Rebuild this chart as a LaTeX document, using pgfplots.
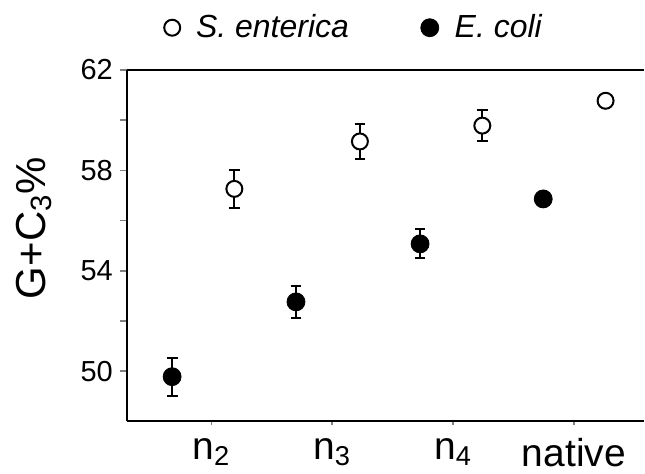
\documentclass[border=0pt]{standalone}
\usepackage{pgfplots}
\pgfplotsset{compat=1.18}
\usepackage{fontspec}
\setmainfont{Liberation Sans}

% data (x = category position incl. offset)
\pgfplotstableread{
x      y      e
0.675  49.78  0.76
1.700  52.76  0.65
2.727  55.07  0.58
3.746  56.86  0.00
}\ecoli
\pgfplotstableread{
x      y      e
1.190  57.26  0.76
2.229  59.15  0.71
3.242  59.78  0.62
4.262  60.77  0.00
}\senterica

\pgfplotsset{ebars/.style={only marks, mark=none, forget plot,
    error bars/.cd, y dir=both, y explicit, error mark=|,
    error bar style={line width=1pt, black},
    error mark options={mark size=2.7pt, line width=1pt}}}

\begin{document}
\begin{tikzpicture}
\begin{axis}[name=ax, scale only axis, width=259pt, height=176pt,
    xmin=0.3, xmax=4.58, ymin=48, ymax=62,
    axis x line*=box, axis y line*=left,
    axis line style={line width=1pt},
    xtick={1,2,3,4},
    xticklabels={n\textsubscript{2}, n\textsubscript{3}, n\textsubscript{4}, native},
    ytick={50,54,58,62}, minor ytick={52,56,60},
    xtick pos=bottom, ytick pos=left, tick align=outside,
    major tick length=3.5pt, minor tick length=3.5pt,
    xtick style={/pgfplots/major tick length=2pt, line width=0.8pt},
    ytick style={line width=0.8pt}, minor tick style={line width=0.8pt},
    /pgf/number format/assume math mode=true,
    yticklabel style={font=\fontsize{14.5}{16}\selectfont},
    xticklabel style={font=\fontsize{19.5}{22}\selectfont, yshift=-1.5pt},
    ylabel={G+C\textsubscript{3}\%},
    ylabel style={font=\fontsize{21}{24}\selectfont, at={(axis description cs:-0.18,0.55)}, anchor=center},
    legend columns=2,
    legend style={draw=none, fill=none, font=\fontsize{16}{18}\selectfont,
        at={(axis description cs:0.06,1.12)}, anchor=west,
        /tikz/every even column/.append style={column sep=34pt}},
]
% error bars first, markers drawn over them
\addplot[ebars] table[x=x, y=y, y error=e] {\senterica};
\addplot[ebars] table[x=x, y=y, y error=e] {\ecoli};
\addplot[only marks, mark=*, mark size=4pt, mark options={draw=black, fill=white, line width=1pt}]
    table[x=x, y=y] {\senterica};
\addlegendentry{\hspace{6pt}\textit{S. enterica}}
\addplot[only marks, mark=*, mark size=4.5pt, mark options={draw=black, fill=black}]
    table[x=x, y=y] {\ecoli};
\addlegendentry{\hspace{6pt}\textit{E. coli}}
\end{axis}
\path (ax.south west) ++(-63.5pt,-26pt) rectangle ([yshift=35pt]ax.north east);
\end{tikzpicture}
\end{document}
